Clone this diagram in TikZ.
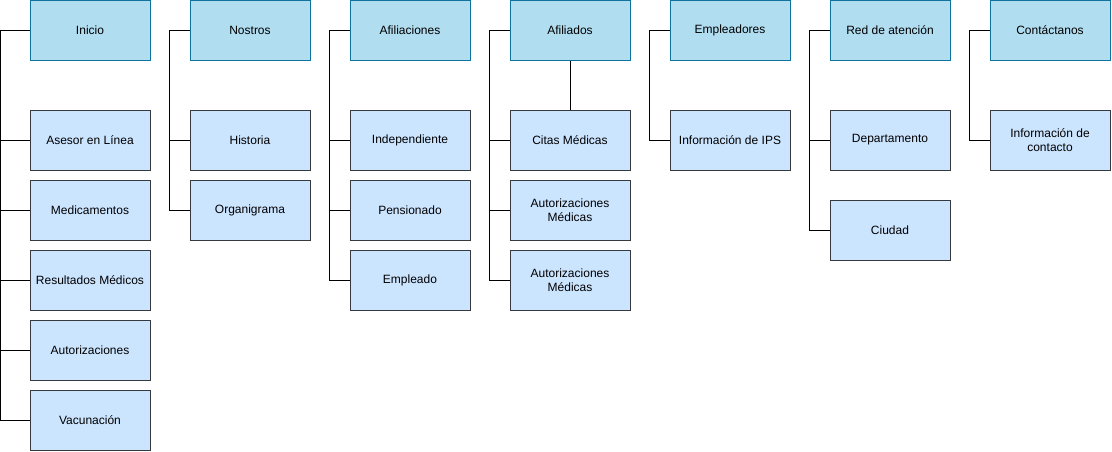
\documentclass[tikz,border=0pt]{standalone}
\usepackage{fontspec}
\setmainfont{Liberation Sans}
\definecolor{headfill}{HTML}{B1DDF0}
\definecolor{headline}{HTML}{10739E}
\definecolor{itemfill}{HTML}{CCE5FF}
\definecolor{itemline}{HTML}{36393D}
\begin{document}
\begin{tikzpicture}[x=1pt,y=-1pt,
  head/.style={draw=headline, fill=headfill, line width=1pt, minimum width=120pt, minimum height=60pt, align=center, font=\fontsize{12}{14}\selectfont, inner sep=0pt},
  item/.style={draw=itemline, fill=itemfill, line width=1pt, minimum width=120pt, minimum height=60pt, align=center, font=\fontsize{12}{14}\selectfont, inner sep=0pt},
  link/.style={draw=black, line width=1pt}]
\useasboundingbox (0,0) rectangle (1112,451);
% Inicio
\node[head] (inicio) at (90,30){Inicio};
\node[item] (asesor) at (90,140){Asesor en Línea};
\node[item] (medic) at (90,210){Medicamentos};
\node[item] (result) at (90,280){Resultados Médicos};
\node[item] (autor) at (90,350){Autorizaciones};
\node[item] (vacun) at (90,420){Vacunación};
\foreach \c in {asesor,medic,result,autor,vacun}
  \draw[link] (inicio.west) -- ++(-29.5,0) |- (\c.west);
% Nostros
\node[head] (nostros) at (250,30){Nostros};
\node[item] (histo) at (250,140){Historia};
\node[item] (organi) at (250,210){Organigrama};
\foreach \c in {histo,organi}
  \draw[link] (nostros.west) -- ++(-20,0) |- (\c.west);
% Afiliaciones
\node[head] (afilc) at (410,30){Afiliaciones};
\node[item] (indep) at (410,140){Independiente};
\node[item] (pensi) at (410,210){Pensionado};
\node[item] (emple) at (410,280){Empleado};
\foreach \c in {indep,pensi,emple}
  \draw[link] (afilc.west) -- ++(-20,0) |- (\c.west);
% Afiliados
\node[head] (afild) at (570,30){Afiliados};
\node[item] (citas) at (570,140){Citas Médicas};
\node[item] (autmA) at (570,210){Autorizaciones\\Médicas};
\node[item] (autmB) at (570,280){Autorizaciones\\Médicas};
\foreach \c in {citas,autmA,autmB}
  \draw[link] (afild.west) -- ++(-20,0) |- (\c.west);
\draw[link] (afild.south) -- (citas.north);
% Empleadores
\node[head] (emplea) at (730,30){Empleadores};
\node[item] (ips) at (730,140){Información de IPS};
\draw[link] (emplea.west) -- ++(-20,0) |- (ips.west);
% Red de atencion
\node[head] (red) at (890,30){Red de atención};
\node[item] (depto) at (890,140){Departamento};
\node[item] (ciudad) at (890,230){Ciudad};
\foreach \c in {depto,ciudad}
  \draw[link] (red.west) -- ++(-20,0) |- (\c.west);
% Contactanos
\node[head] (contac) at (1050,30){Contáctanos};
\node[item] (infoc) at (1050,140){Información de\\contacto};
\draw[link] (contac.west) -- ++(-20,0) |- (infoc.west);
\end{tikzpicture}
\end{document}
